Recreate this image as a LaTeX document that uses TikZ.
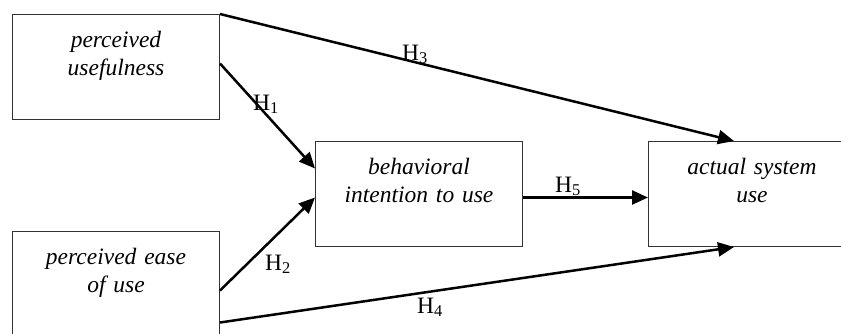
\documentclass[tikz,border=0pt]{standalone}
\usepackage{fontspec}
\setmainfont{Liberation Serif}
\usetikzlibrary{arrows.meta}

\tikzset{
  box/.style={draw=black!80, line width=1pt, inner sep=0pt, text width=207pt,
    text height=33pt, text depth=72pt, align=center,
    font=\fontsize{23.5}{28}\selectfont\itshape},
  arr/.style={line width=2.5pt, -{Triangle[length=16pt,width=14pt]}},
  hlab/.style={inner sep=0pt, anchor=base west, font=\fontsize{23.5}{28}\selectfont}
}

\begin{document}
\begin{tikzpicture}[x=1pt,y=-1pt]
\clip (0,0) rectangle (841,333);
% constructs
\node[box,anchor=north west] (pu) at (12,14) {perceived\\usefulness};
\node[box,anchor=north west] (peou) at (12,231) {perceived ease\\of use};
\node[box,anchor=north west] (bi) at (315,141) {behavioral\\intention to use};
\node[box,anchor=north west] (asu) at (648,141) {actual system\\use};
% hypotheses
\draw[arr] ([yshift=3.5pt]pu.east) -- ([yshift=25.5pt]bi.west);
\draw[arr] ([yshift=-6.5pt]peou.east) -- ([yshift=-3.5pt]bi.west);
\draw[arr] (pu.north east) -- ([xshift=-18pt]asu.north);
\draw[arr] ([yshift=-38.5pt]peou.east) -- ([xshift=-18pt]asu.south);
\draw[arr] ([yshift=-3.5pt]bi.east) -- ([yshift=-3.5pt]asu.west);
\node[hlab] (h1) at (253,110) {H\textsubscript{1}};
\node[hlab] (h2) at (265,270) {H\textsubscript{2}};
\node[hlab] (h3) at (402,60) {H\textsubscript{3}};
\node[hlab] (h4) at (417,313) {H\textsubscript{4}};
\node[hlab] (h5) at (555,192) {H\textsubscript{5}};
\end{tikzpicture}
\end{document}
